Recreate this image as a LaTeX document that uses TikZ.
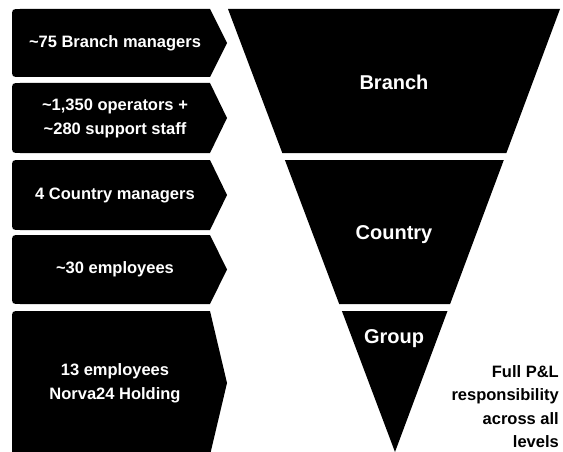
\documentclass[tikz,border=0pt]{standalone}
\usepackage{fontspec}
\setmainfont{Liberation Sans}
\tikzset{
  boxtext/.style={text=white,font=\bfseries\fontsize{16.5}{24}\selectfont,align=center,inner sep=0pt},
  leveltext/.style={text=white,font=\bfseries\fontsize{20}{24}\selectfont,inner sep=0pt},
  notetext/.style={font=\bfseries\fontsize{16.5}{23.5}\selectfont,align=right,inner sep=0pt}
}

\begin{document}
\begin{tikzpicture}[x=1pt,y=-1pt]
\useasboundingbox (0,0) rectangle (563,452);
% left boxes
\foreach \ya/\yb/\name/\txt in {9/77/branchmgr/{\textasciitilde75 Branch managers},
  83/153/operators/{\textasciitilde1,350 operators +\\\textasciitilde280 support staff},
  160/230/countrymgr/{4 Country managers},
  235/304/countrystaff/{\textasciitilde30 employees},
  311/455/holding/{13 employees\\Norva24 Holding}}{
  \pgfmathsetmacro{\ym}{(\ya+\yb)/2}
  \fill (227,\ym) -- (210,\ya) -- (20,\ya) .. controls (12,\ya) .. (12,\ya+8) -- (12,\yb-8) .. controls (12,\yb) .. (20,\yb) -- (210,\yb) -- cycle;
  \node[boxtext] (\name) at (115,\ym) {\txt};
}
% funnel
\fill (228,9) -- (560,9) -- (506.4,153) -- (282.3,153) -- cycle;
\fill (284.9,160) -- (503.8,160) -- (450.1,304) -- (339.2,304) -- cycle;
\fill (341.9,311) -- (447.5,311) -- (395,452) -- cycle;
\node[leveltext] (branch) at (394,82) {Branch};
\node[leveltext] (country) at (394,235) {Country};
\node[leveltext] (group) at (394,339) {Group};
% note
\node[notetext,anchor=north east] (note) at (559,365) {Full P\&L\\responsibility\\across all\\levels};
\end{tikzpicture}
\end{document}
